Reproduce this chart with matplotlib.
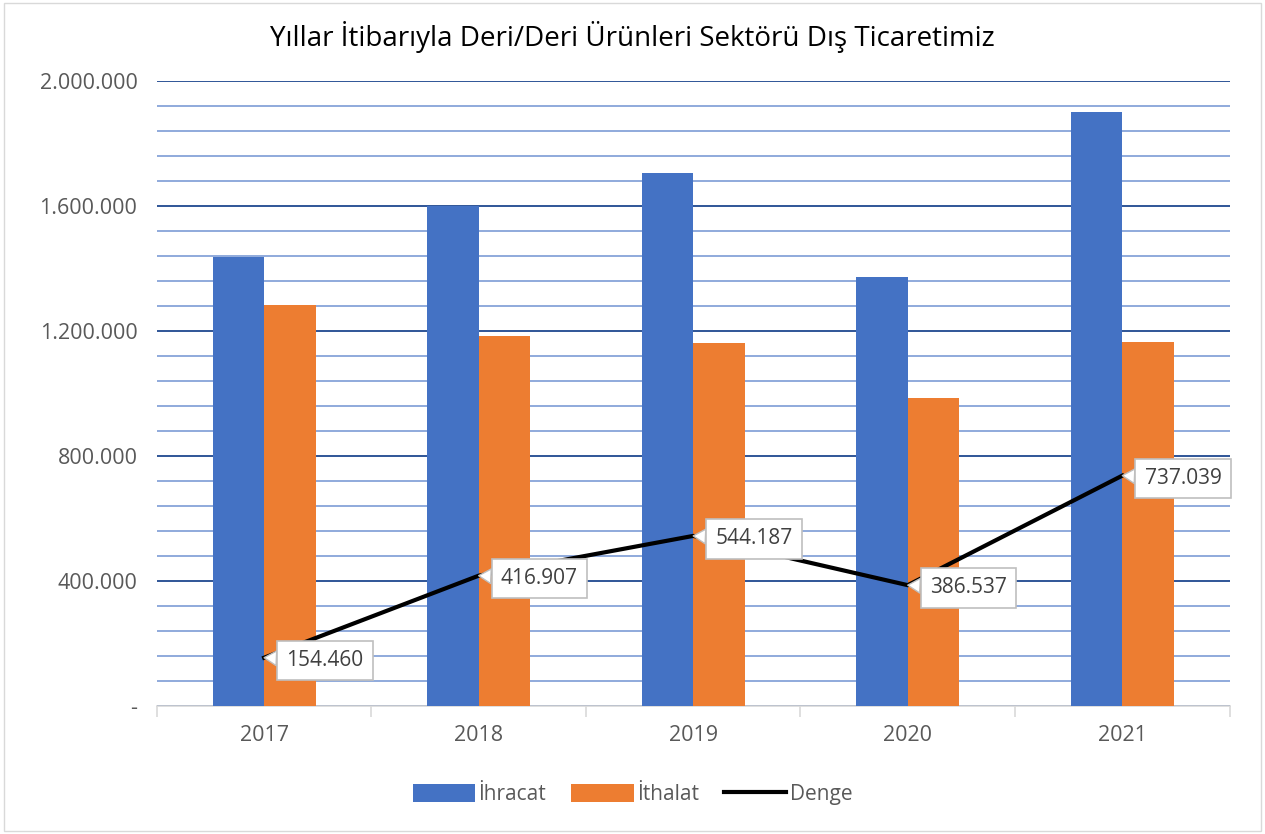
import numpy as np
import matplotlib.pyplot as plt
from matplotlib.ticker import FuncFormatter, MultipleLocator

years = ['2017', '2018', '2019', '2020', '2021']
ihracat = [1437000, 1600000, 1706000, 1373000, 1901000]
ithalat = [1282540, 1183093, 1161813, 986463, 1163961]
denge = [154460, 416907, 544187, 386537, 737039]

plt.rcParams['font.family'] = ['Open Sans', 'DejaVu Sans']

fig = plt.figure(figsize=(12.65, 8.34), dpi=100)
ax = fig.add_axes([0.124, 0.1535, 0.848, 0.7495])

x = np.arange(len(years))
w = 0.24
b1 = ax.bar(x - w / 2, ihracat, w, color='#4472C4', label='İhracat', zorder=3)
b2 = ax.bar(x + w / 2, ithalat, w, color='#ED7D31', label='İthalat', zorder=3)
ln, = ax.plot(x, denge, color='black', lw=3, label='Denge', zorder=4)

for xi, v in zip(x, denge):
    txt = f'{v:,}'.replace(',', '.')
    ax.annotate(txt, (xi, v), xytext=(16, -2), textcoords='offset points',
                ha='left', va='center', fontsize=15, color='#404040', zorder=5,
                bbox=dict(boxstyle='square,pad=0.45', fc='white', ec='#bfbfbf', lw=1.2),
                arrowprops=dict(arrowstyle='wedge,tail_width=0.7', fc='white',
                                ec='#bfbfbf', lw=1, shrinkA=0, shrinkB=0))

ax.set_xlim(-0.5, 4.5)
ax.set_ylim(0, 2000000)
ax.yaxis.set_major_locator(MultipleLocator(400000))
ax.yaxis.set_minor_locator(MultipleLocator(80000))
ax.yaxis.set_major_formatter(FuncFormatter(
    lambda v, p: '-' if v == 0 else f'{int(v):,}'.replace(',', '.')))
ax.grid(axis='y', which='major', color='#2F5597', lw=1.4, zorder=0)
ax.grid(axis='y', which='minor', color='#8FAADC', lw=1.4, zorder=0)
ax.tick_params(axis='y', which='both', length=0, labelsize=15.5, labelcolor='#595959', pad=14)
ax.set_xticks(x)
ax.set_xticklabels(years)
ax.set_xticks(np.arange(-0.5, 5, 1), minor=True)
ax.tick_params(axis='x', which='major', length=0, labelsize=15.5, labelcolor='#595959', pad=14)
ax.tick_params(axis='x', which='minor', length=8, color='#d9d9d9', width=1.2)
for s in ['left', 'right', 'top']:
    ax.spines[s].set_visible(False)
ax.spines['bottom'].set_color('#d9d9d9')
ax.spines['bottom'].set_linewidth(1.2)

fig.suptitle('Yıllar İtibarıyla Deri/Deri Ürünleri Sektörü Dış Ticaretimiz',
             y=0.975, fontsize=20, color='black')
fig.legend([b1, b2, ln], ['İhracat', 'İthalat', 'Denge'],
           loc='lower center', bbox_to_anchor=(0.5, 0.012), ncol=3, frameon=False,
           fontsize=15, labelcolor='#595959', handlelength=3.0, handleheight=0.9,
           columnspacing=1.2, handletextpad=0.15)

fig.patches.append(plt.Rectangle((0.003, 0.003), 0.994, 0.994, transform=fig.transFigure,
                                 fill=False, ec='#d9d9d9', lw=1))
fig.savefig('out.png', dpi=100)
